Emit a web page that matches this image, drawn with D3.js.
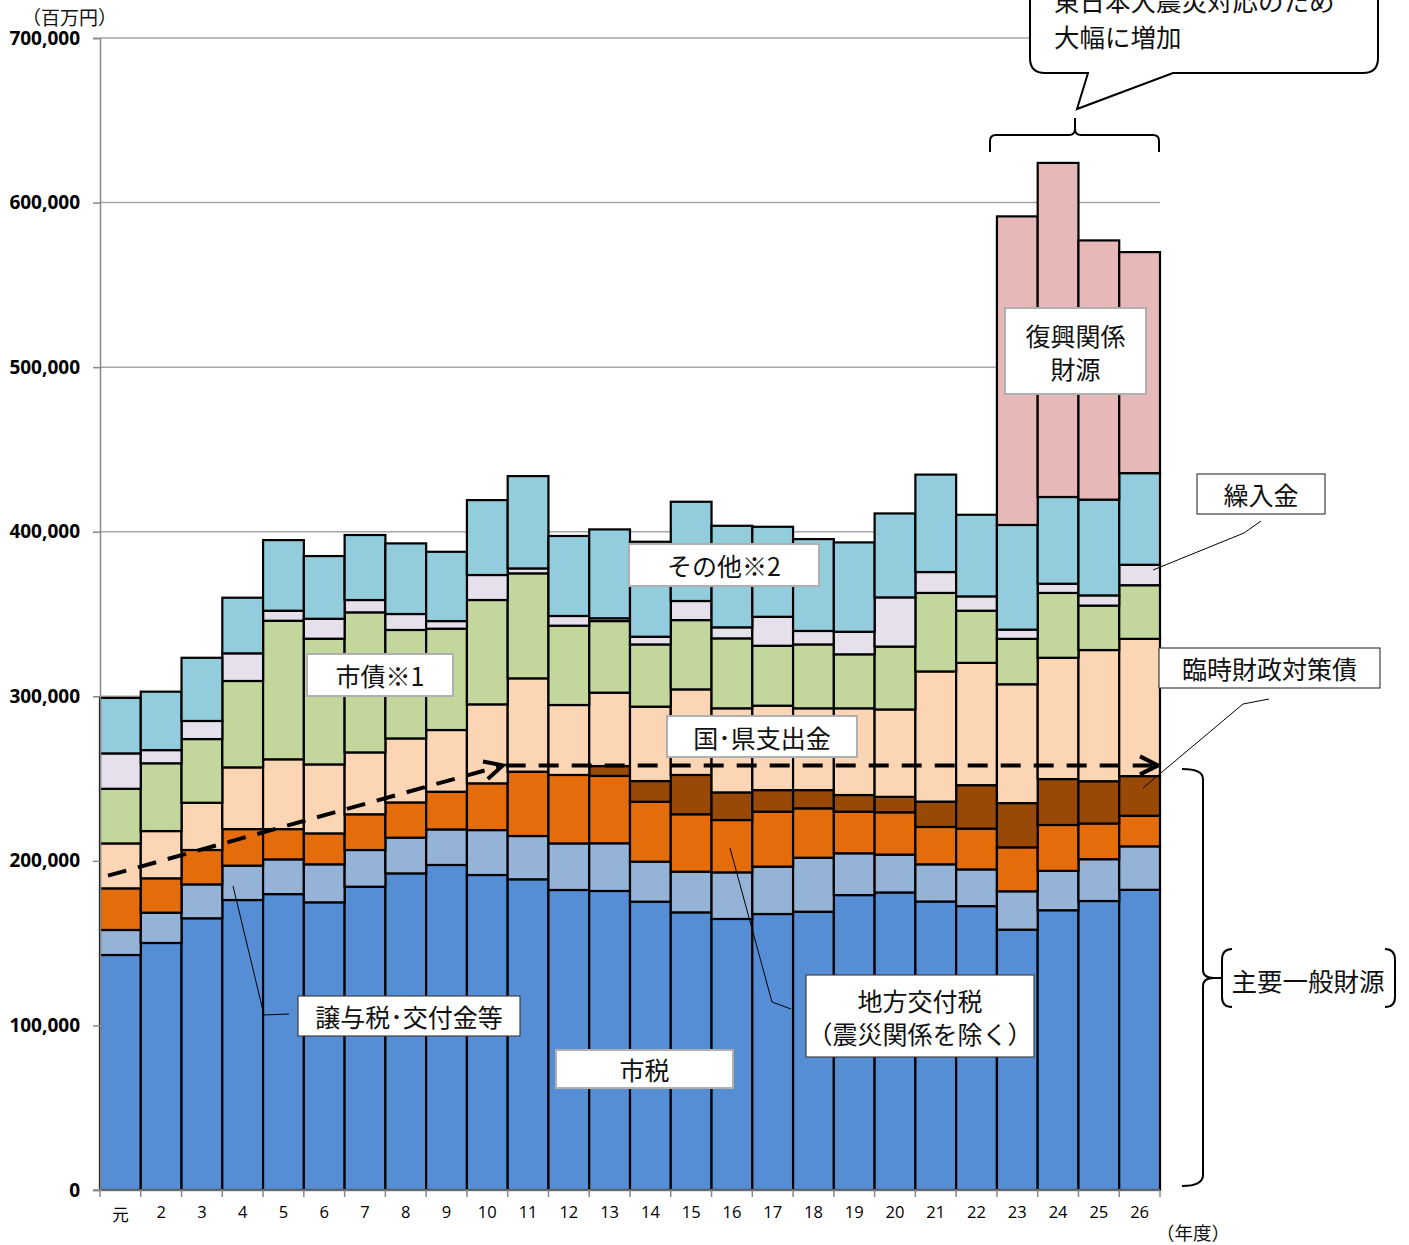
<!DOCTYPE html>
<html>
<head>
<meta charset="utf-8">
<script src="https://cdn.jsdelivr.net/npm/d3@7"></script>
<style>
  html, body { margin: 0; padding: 0; background: #fff; }
  svg { display: block; }
  .lbl { font-family: "Noto Sans CJK JP", "Noto Sans", sans-serif; font-size: 25px; fill: #111; }
</style>
</head>
<body>
<svg id="chart" width="1409" height="1245"></svg>
<script>
// ---- data (単位: 百万円) ----
const years = ['元','2','3','4','5','6','7','8','9','10','11','12','13','14','15','16','17','18','19','20','21','22','23','24','25','26'];
const shizei   = [142800,150100,165100,176200,179800,174800,184300,192400,197500,191400,188800,182300,181700,175200,168700,164700,167700,169100,179200,180800,175300,172500,158200,170000,175600,182400];
const joyozei  = [15200,18400,20600,20900,21100,23100,22300,21700,21600,27300,26300,28300,29000,24300,24700,28300,28800,32800,25400,23000,22600,22300,23300,23900,25400,26400];
const kofuzei  = [25300,20900,20900,22200,18400,18800,21700,21400,22900,28400,39100,41600,40900,36400,34900,31800,33400,30000,25300,25700,22700,24800,26700,27900,21700,18600];
const rinzai   = [0,0,0,0,0,0,0,0,0,0,0,0,6000,12600,23900,16800,13100,11100,10100,9400,15400,26400,26900,27900,25700,24100];
const kokuken  = [27300,28700,28700,37500,42400,41900,37600,38900,37500,48000,56700,42500,44600,45200,52000,51100,51300,49700,52700,53100,79100,74300,72200,73700,79700,83400];
const shisai   = [33200,41200,38700,52500,84200,76400,85100,65900,61600,63400,63800,48200,43500,37800,42100,42500,36400,38800,32800,38200,47700,31700,27600,39400,27000,32600];
const kurire   = [21500,8000,11000,16800,6100,12100,7500,9700,4600,15200,3000,5900,1700,4700,11600,6700,17600,8200,13700,29900,12700,8700,5600,5600,6200,12400];
const sonota   = [33700,35500,38400,33800,42900,38100,39500,42900,42100,45500,56100,48600,54000,57700,60300,61700,54700,55800,54300,51000,59200,49600,63600,52700,58200,55700];
const fukko    = [0,0,0,0,0,0,0,0,0,0,0,0,0,0,0,0,0,0,0,0,0,0,187500,203000,157500,134300];
const yTicks   = [0,100000,200000,300000,400000,500000,600000,700000];
const trendVals = [191000, 258000, 258000];

const seriesKeys   = ['市税','譲与税・交付金等','地方交付税','臨時財政対策債','国・県支出金','市債','繰入金','その他','復興関係財源'];
const seriesData   = [shizei, joyozei, kofuzei, rinzai, kokuken, shisai, kurire, sonota, fukko];
const seriesColors = ['#558ed5','#95b3d7','#e46c0a','#984807','#fcd5b5','#c3d69b','#e6e0ec','#93cddd','#e6b9b8'];

// ---- build table ----
const table = years.map((yr, i) => {
  const row = { year: yr };
  seriesKeys.forEach((k, j) => row[k] = seriesData[j][i]);
  return row;
});

const svg = d3.select('#chart');
const x = d3.scaleBand().domain(years).range([100, 1160]).padding(0);
const y = d3.scaleLinear().domain([0, 700000]).range([1190, 38]);
const bw = x.bandwidth();

// gridlines
svg.append('g').selectAll('line').data(yTicks.filter(d => d > 0)).join('line')
  .attr('x1', 100).attr('x2', 1160)
  .attr('y1', d => y(d)).attr('y2', d => y(d))
  .attr('stroke', '#a6a6a6').attr('stroke-width', 1.5);

// stacked bars
const stack = d3.stack().keys(seriesKeys)(table);
const color = d3.scaleOrdinal().domain(seriesKeys).range(seriesColors);
svg.append('g').selectAll('g').data(stack).join('g')
  .attr('fill', d => color(d.key))
  .selectAll('rect').data(d => d.filter(s => s[1] - s[0] > 0)).join('rect')
  .attr('x', d => x(d.data.year))
  .attr('width', bw)
  .attr('y', d => y(d[1]))
  .attr('height', d => y(d[0]) - y(d[1]))
  .attr('stroke', '#000').attr('stroke-width', 2.2);

// y axis
const yAxis = svg.append('g').attr('transform', 'translate(100,0)')
  .call(d3.axisLeft(y).tickValues(yTicks).tickFormat(d3.format(',')).tickSize(7).tickPadding(13));
yAxis.select('.domain').attr('stroke', '#888').attr('stroke-width', 1.5);
yAxis.selectAll('.tick line').attr('stroke', '#888').attr('stroke-width', 1.5);
yAxis.selectAll('.tick text')
  .attr('font-family', '"Open Sans", "Liberation Sans", sans-serif')
  .attr('font-weight', 'bold').attr('font-size', 19).attr('fill', '#000');

// x axis
const xAxis = svg.append('g').attr('transform', 'translate(0,1190)')
  .call(d3.axisBottom(x).tickSize(0).tickPadding(16));
xAxis.select('.domain').attr('stroke', '#888').attr('stroke-width', 1.5).attr('d', 'M93,0H1160');
xAxis.selectAll('.tick text')
  .attr('font-family', '"Open Sans", "Noto Sans CJK JP", sans-serif')
  .attr('font-size', 16.5).attr('fill', '#000');
xAxis.selectAll('.tick text').filter(d => d === '元')
  .attr('font-family', '"Noto Sans CJK JP", sans-serif').attr('dy', '0.9em');
svg.append('g').selectAll('line').data(years.map(d => x(d)).concat([x(years[years.length-1]) + bw])).join('line')
  .attr('x1', d => d).attr('x2', d => d).attr('y1', 1190).attr('y2', 1197)
  .attr('stroke', '#888').attr('stroke-width', 1.5);

// unit labels
svg.append('text').attr('class', 'lbl').attr('x', 22).attr('y', 16).attr('dominant-baseline', 'central')
  .style('font-size', '19px').text('（百万円）');
svg.append('text').attr('class', 'lbl').attr('x', 1156).attr('y', 1232).attr('dominant-baseline', 'central')
  .style('font-size', '18.5px').text('（年度）');

// trend dashed arrows
const defs = svg.append('defs');
defs.append('marker').attr('id', 'chev').attr('markerUnits', 'userSpaceOnUse')
  .attr('viewBox', '0 0 24 24').attr('markerWidth', 24).attr('markerHeight', 24)
  .attr('refX', 21).attr('refY', 12).attr('orient', 'auto')
  .append('path').attr('d', 'M3,3 L21,12 L3,21').attr('fill', 'none')
  .attr('stroke', '#000').attr('stroke-width', 4).attr('stroke-dasharray', 'none');
const xStart = x(years[0]) + 8;
const xMid = x('10') + bw - 5;
const xEnd = x(years[years.length - 1]) + bw - 2;
svg.append('line').attr('x1', xStart).attr('y1', y(trendVals[0])).attr('x2', xMid).attr('y2', y(trendVals[1]))
  .attr('stroke', '#000').attr('stroke-width', 4).attr('stroke-dasharray', '19,12').attr('marker-end', 'url(#chev)');
svg.append('line').attr('x1', xMid + 3).attr('y1', y(trendVals[1])).attr('x2', xEnd).attr('y2', y(trendVals[2]))
  .attr('stroke', '#000').attr('stroke-width', 4).attr('stroke-dasharray', '20,13').attr('marker-end', 'url(#chev)');

// leader lines
const leaders = [
  [[233, 886], [264, 1015], [289, 1014]],
  [[730, 848], [772, 1002], [791, 1009]],
  [[1153, 570], [1244, 533], [1261, 521]],
  [[1143, 788], [1243, 704], [1269, 699]]
];
svg.append('g').selectAll('path').data(leaders).join('path')
  .attr('d', d => d3.line()(d)).attr('fill', 'none').attr('stroke', '#000').attr('stroke-width', 1);

// label boxes
const boxes = [
  { x: 307, y: 654, w: 146, h: 42, lines: ['市債※1'], stroke: '#b0b0b0', sw: 2 },
  { x: 629, y: 544, w: 190, h: 42, lines: ['その他※2'], stroke: '#b0b0b0', sw: 2 },
  { x: 667, y: 716, w: 190, h: 41, lines: ['国･県支出金'], stroke: '#b0b0b0', sw: 2 },
  { x: 298, y: 996, w: 222, h: 40, lines: ['譲与税･交付金等'], stroke: '#404040', sw: 1.2 },
  { x: 556, y: 1050, w: 177, h: 38, lines: ['市税'], stroke: '#b0b0b0', sw: 2 },
  { x: 806, y: 975, w: 228, h: 82, lines: ['地方交付税', '（震災関係を除く）'], stroke: '#404040', sw: 1.2 },
  { x: 1005, y: 308, w: 141, h: 86, lines: ['復興関係', '財源'], stroke: '#b0b0b0', sw: 2 },
  { x: 1197, y: 474, w: 128, h: 40, lines: ['繰入金'], stroke: '#404040', sw: 1.2 },
  { x: 1159, y: 648, w: 221, h: 40, lines: ['臨時財政対策債'], stroke: '#404040', sw: 1.2 }
];
const bg = svg.append('g').selectAll('g').data(boxes).join('g');
bg.append('rect').attr('x', d => d.x).attr('y', d => d.y).attr('width', d => d.w).attr('height', d => d.h)
  .attr('fill', '#fff').attr('stroke', d => d.stroke).attr('stroke-width', d => d.sw);
bg.each(function(d) {
  const n = d.lines.length;
  const lh = 33;
  d3.select(this).selectAll('text').data(d.lines).join('text').attr('class', 'lbl')
    .attr('x', d.x + d.w / 2).attr('text-anchor', 'middle').attr('dominant-baseline', 'central')
    .attr('y', (t, i) => d.y + d.h / 2 + (i - (n - 1) / 2) * lh)
    .text(t => t);
});

// big right brace for 主要一般財源
svg.append('path').attr('fill', 'none').attr('stroke', '#000').attr('stroke-width', 2)
  .attr('d', 'M1182,769 Q1203,769 1203,779 L1203,970 Q1203,978 1214,978 Q1203,978 1203,986 L1203,1175 Q1203,1186 1182,1186');
svg.append('path').attr('fill', 'none').attr('stroke', '#000').attr('stroke-width', 2)
  .attr('d', 'M1214,978 L1222,978');
svg.append('path').attr('fill', 'none').attr('stroke', '#000').attr('stroke-width', 2)
  .attr('d', 'M1232,949 Q1222,949 1222,960 L1222,997 Q1222,1007 1232,1007');
svg.append('path').attr('fill', 'none').attr('stroke', '#000').attr('stroke-width', 2)
  .attr('d', 'M1385,949 Q1395,949 1395,960 L1395,997 Q1395,1007 1385,1007');
svg.append('text').attr('class', 'lbl').attr('x', 1308).attr('y', 979).attr('text-anchor', 'middle')
  .attr('dominant-baseline', 'central').style('font-size', '25.5px').text('主要一般財源');

// brace over 23-26
svg.append('path').attr('fill', 'none').attr('stroke', '#000').attr('stroke-width', 2)
  .attr('d', 'M990,152 L990,141 Q990,135 996,135 L1069,135 Q1075,135 1075,129 L1075,118 L1075,129 Q1075,135 1081,135 L1153,135 Q1159,135 1159,141 L1159,152');

// callout
svg.append('path').attr('fill', '#fff').attr('stroke', '#000').attr('stroke-width', 2)
  .attr('d', 'M1030,-30 L1030,58 Q1030,73 1045,73 L1088,73 L1077,109 L1173,73 L1363,73 Q1378,73 1378,58 L1378,-30');
svg.append('text').attr('class', 'lbl').attr('x', 1054).attr('y', -1).attr('dominant-baseline', 'central')
  .style('font-size', '25.5px').text('東日本大震災対応のため');
svg.append('text').attr('class', 'lbl').attr('x', 1054).attr('y', 35).attr('dominant-baseline', 'central')
  .style('font-size', '25.5px').text('大幅に増加');
</script>
</body>
</html>
